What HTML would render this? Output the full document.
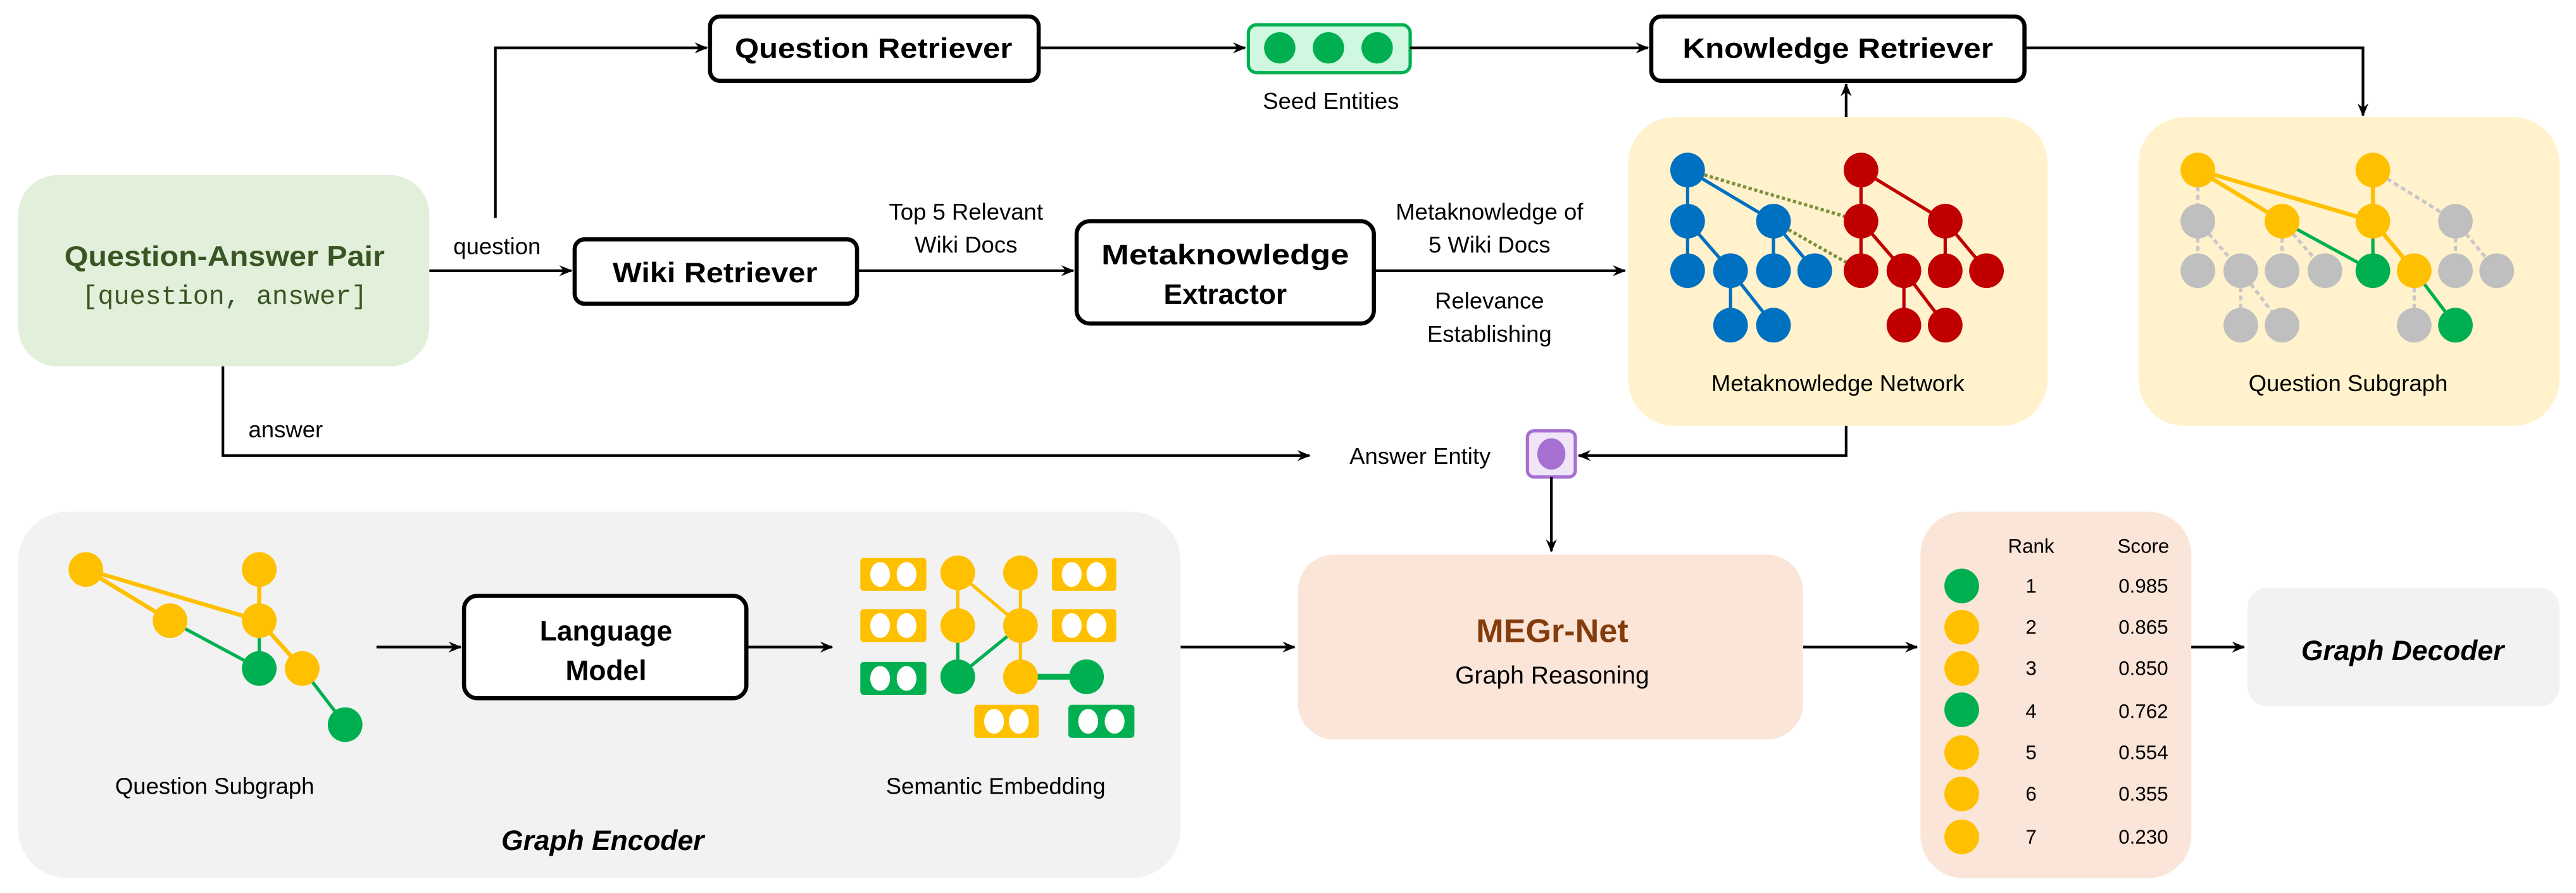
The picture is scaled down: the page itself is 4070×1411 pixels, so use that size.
<!DOCTYPE html>
<html><head><meta charset="utf-8"><style>html,body{margin:0;padding:0;background:#fff}svg{display:block}</style></head>
<body>
<svg width="4070" height="1411" viewBox="0 0 1560 541" preserveAspectRatio="none" xmlns="http://www.w3.org/2000/svg" font-family="'Liberation Sans', sans-serif">
<defs>
<marker id="a" viewBox="0 0 12 10" refX="11" refY="5" markerWidth="8" markerHeight="7" markerUnits="userSpaceOnUse" orient="auto"><path d="M0,0 L12,5 L0,10 L4,5 Z" fill="#000"/></marker>
</defs>
<rect width="1560" height="541" fill="#fff"/>
<!-- panels -->
<rect x="11" y="106" width="249" height="116" rx="24" fill="#e2efda"/>
<rect x="986" y="71" width="254" height="187" rx="28" fill="#fff2cc"/>
<rect x="1295" y="71" width="255" height="187" rx="28" fill="#fff2cc"/>
<rect x="11" y="310" width="704" height="222" rx="30" fill="#f2f2f2"/>
<rect x="786" y="336" width="306" height="112" rx="22" fill="#fae5d8"/>
<rect x="1163" y="310" width="164" height="222" rx="26" fill="#fae5d8"/>
<rect x="1361" y="356" width="189" height="72" rx="12" fill="#f2f2f2"/>

<!-- black boxes -->
<g fill="#fff" stroke="#000" stroke-width="2.5">
<rect x="430" y="10" width="199" height="39" rx="6"/>
<rect x="1000" y="10" width="226" height="39" rx="6"/>
<rect x="348" y="145" width="171" height="39" rx="6"/>
<rect x="652" y="134" width="180" height="62" rx="8"/>
<rect x="281" y="361" width="171" height="62" rx="8"/>
</g>
<g font-weight="bold" font-size="17" text-anchor="middle" fill="#000">
<text x="529" y="35" textLength="168" lengthAdjust="spacingAndGlyphs">Question Retriever</text>
<text x="1113" y="35" textLength="188" lengthAdjust="spacingAndGlyphs">Knowledge Retriever</text>
<text x="433" y="171" textLength="124" lengthAdjust="spacingAndGlyphs">Wiki Retriever</text>
<text x="742" y="160" textLength="150" lengthAdjust="spacingAndGlyphs">Metaknowledge</text>
<text x="742" y="184">Extractor</text>
<text x="367" y="388">Language</text>
<text x="367" y="412">Model</text>
</g>

<!-- QA pair text -->
<text x="136" y="161" text-anchor="middle" font-weight="bold" font-size="17" fill="#375623" textLength="194" lengthAdjust="spacingAndGlyphs">Question-Answer Pair</text>
<text x="136" y="184" text-anchor="middle" font-family="'Liberation Mono', monospace" font-size="16" fill="#375623">[question, answer]</text>

<!-- seed entities -->
<rect x="756" y="15" width="98" height="29" rx="5" fill="#d0f8e0" stroke="#00b050" stroke-width="2"/>
<g fill="#00b050"><ellipse cx="775" cy="29" rx="9.5" ry="9.5"/><ellipse cx="804.5" cy="29" rx="9.5" ry="9.5"/><ellipse cx="834" cy="29" rx="9.5" ry="9.5"/></g>

<!-- purple -->
<rect x="925" y="261" width="29" height="28" rx="4" fill="#efe4f8" stroke="#a66fd2" stroke-width="2"/>
<ellipse cx="939.5" cy="275" rx="8.5" ry="9.5" fill="#a66fd2"/>

<!-- connectors -->
<g stroke="#000" stroke-width="1.6" fill="none">
<path d="M300,132 V29 H428" marker-end="url(#a)"/>
<path d="M629,29 H754" marker-end="url(#a)"/>
<path d="M854,29 H998" marker-end="url(#a)"/>
<path d="M1226,29 H1431 V70" marker-end="url(#a)"/>
<path d="M1118,71 V51" marker-end="url(#a)"/>
<path d="M260,164 H346" marker-end="url(#a)"/>
<path d="M519,164 H650" marker-end="url(#a)"/>
<path d="M832,164 H984" marker-end="url(#a)"/>
<path d="M135,222 V276 H793" marker-end="url(#a)"/>
<path d="M1118,258 V276 H956" marker-end="url(#a)"/>
<path d="M939.5,289 V334" marker-end="url(#a)"/>
<path d="M228,392 H279" marker-end="url(#a)"/>
<path d="M452,392 H504" marker-end="url(#a)"/>
<path d="M715,392 H784" marker-end="url(#a)"/>
<path d="M1092,392 H1161" marker-end="url(#a)"/>
<path d="M1327,392 H1359" marker-end="url(#a)"/>
</g>

<!-- labels -->
<g font-size="14" fill="#000" text-anchor="middle">
<text x="806" y="66">Seed Entities</text>
<text x="301" y="154">question</text>
<text x="173" y="265">answer</text>
<text x="585" y="133">Top 5 Relevant</text>
<text x="585" y="153">Wiki Docs</text>
<text x="902" y="133">Metaknowledge of</text>
<text x="902" y="153">5 Wiki Docs</text>
<text x="902" y="187">Relevance</text>
<text x="902" y="207">Establishing</text>
<text x="1113" y="237">Metaknowledge Network</text>
<text x="1422" y="237">Question Subgraph</text>
<text x="860" y="281">Answer Entity</text>
<text x="130" y="481">Question Subgraph</text>
<text x="603" y="481">Semantic Embedding</text>
<text x="940" y="414" font-size="15">Graph Reasoning</text>
</g>
<text x="940" y="389" text-anchor="middle" font-weight="bold" font-size="20" fill="#843c0c">MEGr-Net</text>
<text x="365" y="515" text-anchor="middle" font-weight="bold" font-style="italic" font-size="17">Graph Encoder</text>
<text x="1455" y="400" text-anchor="middle" font-weight="bold" font-style="italic" font-size="17">Graph Decoder</text>

<!-- metaknowledge network -->
<g stroke-width="2" fill="none">
<g stroke="#0070c0">
<path d="M1022,103V134M1022,103L1074,134M1022,134V164M1022,134L1048,164M1074,134V164M1074,134L1099,164M1048,164V197M1048,164L1074,197"/>
</g>
<g stroke="#c00000">
<path d="M1127,103V134M1127,103L1178,134M1127,134V164M1127,134L1153,164M1178,134V164M1178,134L1203,164M1153,164V197M1153,164L1178,197"/>
</g>
<path d="M1022,103L1127,134M1074,134L1127,164" stroke="#7f8f3f" stroke-dasharray="2,1.5"/>
</g>
<g fill="#0070c0">
<circle cx="1022" cy="103" r="10.5"/><circle cx="1022" cy="134" r="10.5"/><circle cx="1074" cy="134" r="10.5"/>
<circle cx="1022" cy="164" r="10.5"/><circle cx="1048" cy="164" r="10.5"/><circle cx="1074" cy="164" r="10.5"/><circle cx="1099" cy="164" r="10.5"/>
<circle cx="1048" cy="197" r="10.5"/><circle cx="1074" cy="197" r="10.5"/>
</g>
<g fill="#c00000">
<circle cx="1127" cy="103" r="10.5"/><circle cx="1127" cy="134" r="10.5"/><circle cx="1178" cy="134" r="10.5"/>
<circle cx="1127" cy="164" r="10.5"/><circle cx="1153" cy="164" r="10.5"/><circle cx="1178" cy="164" r="10.5"/><circle cx="1203" cy="164" r="10.5"/>
<circle cx="1153" cy="197" r="10.5"/><circle cx="1178" cy="197" r="10.5"/>
</g>

<!-- question subgraph right -->
<g fill="none" stroke-width="2">
<path d="M1331,103V134M1437,103L1487,134M1331,134V164M1331,134L1357,164M1382,134V164M1382,134L1408,164M1487,134V164M1487,134L1512,164M1357,164V197M1357,164L1382,197M1462,164V197" stroke="#c8c8c8" stroke-dasharray="3,2"/>
<path d="M1331,103L1382,134M1331,103L1437,134M1437,103V134M1437,134L1462,164" stroke="#ffc000" stroke-width="2.5"/>
<path d="M1382,134L1437,164M1437,134V164M1462,164L1487,197" stroke="#00b050"/>
</g>
<g fill="#bfbfbf">
<circle cx="1331" cy="134" r="10.5"/><circle cx="1487" cy="134" r="10.5"/>
<circle cx="1331" cy="164" r="10.5"/><circle cx="1357" cy="164" r="10.5"/><circle cx="1382" cy="164" r="10.5"/><circle cx="1408" cy="164" r="10.5"/><circle cx="1487" cy="164" r="10.5"/><circle cx="1512" cy="164" r="10.5"/>
<circle cx="1357" cy="197" r="10.5"/><circle cx="1382" cy="197" r="10.5"/><circle cx="1462" cy="197" r="10.5"/>
</g>
<g fill="#ffc000">
<circle cx="1331" cy="103" r="10.5"/><circle cx="1437" cy="103" r="10.5"/><circle cx="1382" cy="134" r="10.5"/><circle cx="1437" cy="134" r="10.5"/><circle cx="1462" cy="164" r="10.5"/>
</g>
<g fill="#00b050"><circle cx="1437" cy="164" r="10.5"/><circle cx="1487" cy="197" r="10.5"/></g>

<!-- question subgraph left -->
<g fill="none" stroke-width="2">
<path d="M52,345L103,376M52,345L157,376M157,345V376M157,376L183,405" stroke="#ffc000" stroke-width="2.5"/>
<path d="M103,376L157,405M157,376V405M183,405L209,439" stroke="#00b050"/>
</g>
<g fill="#ffc000"><circle cx="52" cy="345" r="10.5"/><circle cx="157" cy="345" r="10.5"/><circle cx="103" cy="376" r="10.5"/><circle cx="157" cy="376" r="10.5"/><circle cx="183" cy="405" r="10.5"/></g>
<g fill="#00b050"><circle cx="157" cy="405" r="10.5"/><circle cx="209" cy="439" r="10.5"/></g>

<!-- semantic embedding -->
<g fill="none" stroke-width="2">
<path d="M580,347V379M580,347L618,379M618,347V379M618,379V410" stroke="#ffc000"/>
<path d="M580,379V410M618,379L580,410" stroke="#00b050"/>
<path d="M618,410H658" stroke="#00b050" stroke-width="3.5"/>
</g>
<g fill="#ffc000"><circle cx="580" cy="347" r="10.5"/><circle cx="618" cy="347" r="10.5"/><circle cx="580" cy="379" r="10.5"/><circle cx="618" cy="379" r="10.5"/><circle cx="618" cy="410" r="10.5"/></g>
<g fill="#00b050"><circle cx="580" cy="410" r="10.5"/><circle cx="658" cy="410" r="10.5"/></g>
<g>
<rect x="521" y="338" width="40" height="20" rx="2" fill="#ffc000"/>
<rect x="637" y="338" width="39" height="20" rx="2" fill="#ffc000"/>
<rect x="521" y="369" width="40" height="20" rx="2" fill="#ffc000"/>
<rect x="637" y="369" width="39" height="20" rx="2" fill="#ffc000"/>
<rect x="521" y="401" width="40" height="20" rx="2" fill="#00b050"/>
<rect x="590" y="427" width="39" height="20" rx="2" fill="#ffc000"/>
<rect x="647" y="427" width="40" height="20" rx="2" fill="#00b050"/>
</g>
<g fill="#fff">
<ellipse cx="533" cy="348" rx="6" ry="7.5"/><ellipse cx="549" cy="348" rx="6" ry="7.5"/>
<ellipse cx="649" cy="348" rx="6" ry="7.5"/><ellipse cx="664" cy="348" rx="6" ry="7.5"/>
<ellipse cx="533" cy="379" rx="6" ry="7.5"/><ellipse cx="549" cy="379" rx="6" ry="7.5"/>
<ellipse cx="649" cy="379" rx="6" ry="7.5"/><ellipse cx="664" cy="379" rx="6" ry="7.5"/>
<ellipse cx="533" cy="411" rx="6" ry="7.5"/><ellipse cx="549" cy="411" rx="6" ry="7.5"/>
<ellipse cx="602" cy="437" rx="6" ry="7.5"/><ellipse cx="617" cy="437" rx="6" ry="7.5"/>
<ellipse cx="659" cy="437" rx="6" ry="7.5"/><ellipse cx="675" cy="437" rx="6" ry="7.5"/>
</g>

<!-- rank table -->
<g font-size="12" text-anchor="middle" fill="#000">
<text x="1230" y="335">Rank</text><text x="1298" y="335">Score</text>
<text x="1230" y="359">1</text><text x="1298" y="359">0.985</text>
<text x="1230" y="384">2</text><text x="1298" y="384">0.865</text>
<text x="1230" y="409">3</text><text x="1298" y="409">0.850</text>
<text x="1230" y="435">4</text><text x="1298" y="435">0.762</text>
<text x="1230" y="460">5</text><text x="1298" y="460">0.554</text>
<text x="1230" y="485">6</text><text x="1298" y="485">0.355</text>
<text x="1230" y="511">7</text><text x="1298" y="511">0.230</text>
</g>
<g>
<circle cx="1188" cy="355" r="10.5" fill="#00b050"/>
<circle cx="1188" cy="380" r="10.5" fill="#ffc000"/>
<circle cx="1188" cy="405" r="10.5" fill="#ffc000"/>
<circle cx="1188" cy="430" r="10.5" fill="#00b050"/>
<circle cx="1188" cy="456" r="10.5" fill="#ffc000"/>
<circle cx="1188" cy="481" r="10.5" fill="#ffc000"/>
<circle cx="1188" cy="507" r="10.5" fill="#ffc000"/>
</g>
</svg>
</body></html>
